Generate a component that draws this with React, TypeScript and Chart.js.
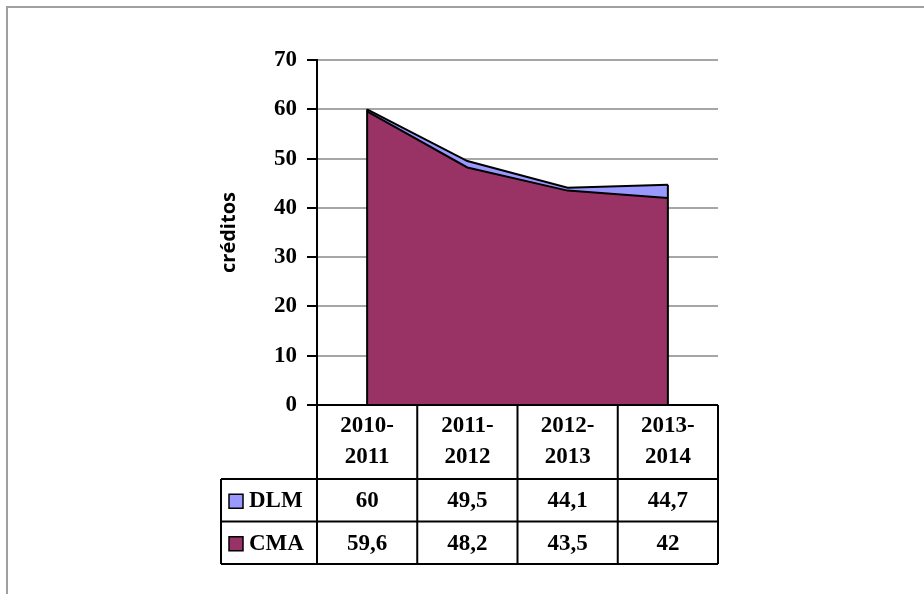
import React, { useEffect, useRef } from "react";
import { Chart, registerables } from "chart.js";

Chart.register(...registerables);

const categories = ["2010-2011", "2011-2012", "2012-2013", "2013-2014"];
const seriesNames = ["DLM", "CMA"];
const dlmValues = [60, 49.5, 44.1, 44.7];
const cmaValues = [59.6, 48.2, 43.5, 42];
const seriesColors = ["#9999ff", "#993366"];
const yMin = 0;
const yMax = 70;
const yStep = 10;
const yTitle = "créditos";

const SERIF = '"Liberation Serif", "Times New Roman", serif';
const SANS = '"Open Sans", "Noto Sans", sans-serif';

const fmt = (v: number) => String(v).replace(".", ",");

const framePlugin = {
  id: "frame",
  beforeDraw(chart: any) {
    const ctx = chart.ctx;
    ctx.save();
    ctx.strokeStyle = "#a0a0a0";
    ctx.lineWidth = 2;
    ctx.beginPath();
    ctx.moveTo(7, chart.height + 5);
    ctx.lineTo(7, 7);
    ctx.lineTo(chart.width + 5, 7);
    ctx.stroke();
    ctx.restore();
  },
};

const edgePlugin = {
  id: "edges",
  afterDatasetsDraw(chart: any) {
    const ctx = chart.ctx;
    const x = chart.scales.x;
    const y = chart.scales.y;
    const last = categories.length - 1;
    const firstMax = Math.max(dlmValues[0], cmaValues[0]);
    const lastMax = Math.max(dlmValues[last], cmaValues[last]);
    ctx.save();
    ctx.strokeStyle = "#000";
    ctx.lineWidth = 2;
    ctx.beginPath();
    ctx.moveTo(x.getPixelForValue(0), y.getPixelForValue(firstMax));
    ctx.lineTo(x.getPixelForValue(0), y.getPixelForValue(0));
    ctx.moveTo(x.getPixelForValue(last), y.getPixelForValue(lastMax));
    ctx.lineTo(x.getPixelForValue(last), y.getPixelForValue(0));
    ctx.stroke();
    ctx.restore();
  },
};

const tablePlugin = {
  id: "dataTable",
  afterDraw(chart: any) {
    const ctx = chart.ctx;
    const x = chart.scales.x;
    const area = chart.chartArea;
    const colW = x.getPixelForValue(1) - x.getPixelForValue(0);
    const left = area.left;
    const right = area.right;
    const top = area.bottom;
    const headerH = 74;
    const rowH = 42.5;
    const legendLeft = 221;
    const rowsTop = top + headerH;
    const bottom = rowsTop + rowH * seriesNames.length;

    ctx.save();
    ctx.strokeStyle = "#000";
    ctx.lineWidth = 2;
    ctx.beginPath();
    ctx.moveTo(left, top);
    ctx.lineTo(right, top);
    for (let r = 0; r <= seriesNames.length; r++) {
      const yy = rowsTop + rowH * r;
      ctx.moveTo(legendLeft, yy);
      ctx.lineTo(right, yy);
    }
    ctx.moveTo(left, top);
    ctx.lineTo(left, bottom);
    for (let i = 0; i < categories.length; i++) {
      const xx = x.getPixelForValue(i) + colW / 2;
      ctx.moveTo(xx, top);
      ctx.lineTo(xx, bottom);
    }
    ctx.moveTo(legendLeft, rowsTop);
    ctx.lineTo(legendLeft, bottom);
    ctx.stroke();

    ctx.fillStyle = "#000";
    ctx.font = `bold 23px ${SERIF}`;
    ctx.textAlign = "center";
    ctx.textBaseline = "middle";
    categories.forEach((c, i) => {
      const [a, b] = c.split("-");
      const cx = x.getPixelForValue(i);
      ctx.fillText(a + "-", cx, top + 21);
      ctx.fillText(b, cx, top + 52);
    });

    const all = [dlmValues, cmaValues];
    all.forEach((vals, r) => {
      const cy = rowsTop + rowH * r + rowH / 2 + 1;
      vals.forEach((v, i) => {
        ctx.textAlign = "center";
        ctx.fillText(fmt(v), x.getPixelForValue(i), cy);
      });
      ctx.fillStyle = seriesColors[r];
      ctx.fillRect(229, cy - 7, 14, 14);
      ctx.lineWidth = 1.5;
      ctx.strokeRect(229, cy - 7, 14, 14);
      ctx.fillStyle = "#000";
      ctx.textAlign = "left";
      ctx.fillText(seriesNames[r], 249, cy);
    });
    ctx.restore();
  },
};

export default function App() {
  const ref = useRef<HTMLCanvasElement | null>(null);

  useEffect(() => {
    if (!ref.current) return;
    const chart = new Chart(ref.current, {
      type: "line",
      data: {
        labels: categories,
        datasets: [
          {
            label: seriesNames[0],
            data: dlmValues,
            backgroundColor: seriesColors[0],
            borderColor: "#000",
            borderWidth: 2,
            fill: "origin",
            tension: 0,
            pointRadius: 0,
            order: 1,
          },
          {
            label: seriesNames[1],
            data: cmaValues,
            backgroundColor: seriesColors[1],
            borderColor: "#000",
            borderWidth: 2,
            fill: "origin",
            tension: 0,
            pointRadius: 0,
            order: 0,
          },
        ],
      },
      options: {
        animation: false,
        responsive: false,
        devicePixelRatio: 1,
        layout: { padding: { left: 0, top: 60, right: 206, bottom: 189 } },
        plugins: {
          legend: { display: false },
          tooltip: { enabled: false },
          title: { display: false },
        },
        scales: {
          x: {
            type: "category",
            display: false,
            offset: true,
          },
          y: {
            min: yMin,
            max: yMax,
            afterFit(scale: any) {
              scale.width = 317;
            },
            ticks: {
              stepSize: yStep,
              color: "#000",
              padding: 10,
              font: { family: SERIF, size: 23, weight: "bold" },
            },
            grid: {
              color: (c: any) => (c.tick && c.tick.value === 0 ? "#000" : "#a6a6a6"),
              lineWidth: 2,
              tickColor: "#000",
              tickLength: 10,
              drawTicks: true,
            },
            border: { display: true, color: "#000", width: 2 },
            title: {
              display: true,
              text: yTitle,
              color: "#000",
              font: { family: SANS, size: 20, weight: "bold" },
              padding: { top: 217, bottom: 0 },
            },
          },
        },
      },
      plugins: [framePlugin, edgePlugin, tablePlugin],
    });
    return () => chart.destroy();
  }, []);

  return (
    <div style={{ position: "absolute", left: 0, top: 0, width: 924, height: 594, background: "#fff" }}>
      <canvas ref={ref} width={924} height={594} style={{ display: "block" }} />
    </div>
  );
}
